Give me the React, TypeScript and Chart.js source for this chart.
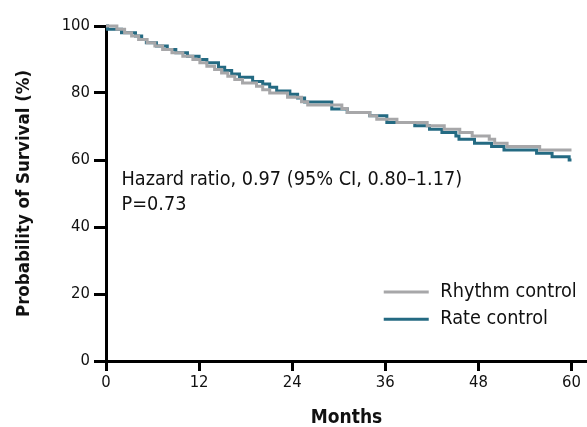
import React, { useEffect, useRef } from "react";
import { Chart, registerables } from "chart.js";

Chart.register(...registerables);

// Kaplan–Meier survival estimates (month of each drop, survival % after it)
const rhythmMonths = [0, 1.4, 2.4, 3.3, 4.2, 5.3, 6.3, 7.3, 8.5, 9.9, 11.2, 12.1, 13.0, 14.0, 14.9, 15.7, 16.6, 17.6, 19.4, 20.2, 21.1, 23.4, 25.2, 26.0, 30.4, 31.1, 34.0, 34.9, 37.5, 41.4, 43.6, 45.6, 47.2, 49.4, 50.1, 51.7, 55.9, 60];
const rhythmSurvival = [100, 99, 98, 97, 96, 95, 94, 93, 92, 91, 90, 89, 88, 87, 86, 85, 84, 83, 82, 81, 80, 78.7, 77.4, 76.4, 75.4, 74.2, 73.2, 72.2, 71.2, 70.2, 69.2, 68.2, 67.2, 66.2, 65, 64, 63, 63];

const rateMonths = [0, 0.2, 2.0, 3.8, 4.6, 5.2, 6.5, 7.9, 9.0, 10.5, 12.0, 13.0, 14.5, 15.3, 16.2, 17.2, 18.9, 20.2, 21.1, 22.0, 23.7, 24.7, 25.6, 29.1, 31.1, 34.0, 36.2, 39.8, 41.7, 43.3, 45.1, 45.5, 47.5, 49.7, 51.3, 55.5, 57.5, 59.7, 60];
const rateSurvival = [100, 99, 98, 97, 96, 95, 94, 93, 92, 91, 90, 89, 87.7, 86.7, 85.7, 84.7, 83.4, 82.7, 81.7, 80.6, 79.6, 78.5, 77.3, 75.2, 74.2, 73.2, 71.2, 70.2, 69.2, 68.2, 67.2, 66.2, 65, 64, 63, 62, 61, 60, 60];

const seriesLabels = ["Rhythm control", "Rate control"];
const seriesColors = ["#a7a7a9", "#246a82"];

const monthTicks = [0, 12, 24, 36, 48, 60];
const survivalTicks = [0, 20, 40, 60, 80, 100];

const annotationLines = ["Hazard ratio, 0.97 (95% CI, 0.80\u20131.17)", "P=0.73"];

const FONT = "'DejaVu Sans Condensed', 'DejaVu Sans', sans-serif";

const toPoints = (xs: number[], ys: number[]) => xs.map((x, i) => ({ x, y: ys[i] }));

// Hazard-ratio note and the line legend, placed in data coordinates
const overlayPlugin = {
  id: "overlay",
  afterDatasetsDraw(chart: any) {
    const { ctx, scales } = chart;
    const xs = scales.x;
    const ys = scales.y;
    ctx.save();
    ctx.fillStyle = "#111";
    ctx.font = `19.7px ${FONT}`;
    ctx.textAlign = "left";
    ctx.textBaseline = "alphabetic";
    ctx.fillText(annotationLines[0], xs.getPixelForValue(2), ys.getPixelForValue(52.5));
    ctx.fillText(annotationLines[1], xs.getPixelForValue(2), ys.getPixelForValue(45));

    const legendRows = [20.6, 12.5];
    chart.data.datasets.forEach((ds: any, i: number) => {
      const y = ys.getPixelForValue(legendRows[i]);
      ctx.strokeStyle = ds.borderColor;
      ctx.lineWidth = 3;
      ctx.beginPath();
      ctx.moveTo(xs.getPixelForValue(35.8), y);
      ctx.lineTo(xs.getPixelForValue(41.6), y);
      ctx.stroke();
      ctx.fillStyle = "#111";
      ctx.textBaseline = "middle";
      ctx.fillText(ds.label, xs.getPixelForValue(43.1), y);
    });
    ctx.restore();
  },
};

export default function App() {
  const canvasRef = useRef<HTMLCanvasElement | null>(null);

  useEffect(() => {
    const canvas = canvasRef.current;
    if (!canvas) return;
    const chart = new Chart(canvas, {
      type: "line",
      data: {
        datasets: [
          {
            label: seriesLabels[0],
            data: toPoints(rhythmMonths, rhythmSurvival),
            borderColor: seriesColors[0],
            backgroundColor: seriesColors[0],
            borderWidth: 3,
            stepped: "before",
            pointRadius: 0,
            fill: false,
            clip: false,
          },
          {
            label: seriesLabels[1],
            data: toPoints(rateMonths, rateSurvival),
            borderColor: seriesColors[1],
            backgroundColor: seriesColors[1],
            borderWidth: 3,
            stepped: "before",
            pointRadius: 0,
            fill: false,
            clip: false,
          },
        ],
      },
      options: {
        animation: false,
        responsive: false,
        devicePixelRatio: 1,
        layout: { padding: { top: 26, left: 0, right: 0, bottom: 0 } },
        plugins: { legend: { display: false }, tooltip: { enabled: false } },
        scales: {
          x: {
            type: "linear",
            min: 0,
            max: 62,
            afterBuildTicks: (s: any) => {
              s.ticks = monthTicks.map((v) => ({ value: v }));
            },
            afterFit: (s: any) => {
              s.height = 66;
            },
            ticks: {
              autoSkip: false,
              maxRotation: 0,
              padding: 2,
              color: "#111",
              font: { family: FONT, size: 16.5 },
            },
            grid: { drawOnChartArea: false, tickLength: 10, tickWidth: 3, tickColor: "#000" },
            border: { color: "#000", width: 3 },
            title: {
              display: true,
              text: "Months",
              color: "#111",
              padding: 0,
              font: { family: FONT, size: 19, weight: "bold", lineHeight: 0.95 },
            },
          },
          y: {
            min: 0,
            max: 100,
            afterBuildTicks: (s: any) => {
              s.ticks = survivalTicks.map((v) => ({ value: v }));
            },
            afterFit: (s: any) => {
              s.width = 106;
            },
            ticks: {
              padding: 4,
              color: "#111",
              font: { family: FONT, size: 16.5 },
            },
            grid: { drawOnChartArea: false, tickLength: 12, tickWidth: 3, tickColor: "#000" },
            border: { color: "#000", width: 3 },
            title: {
              display: true,
              text: "Probability of Survival (%)",
              color: "#111",
              padding: { top: 13, bottom: 0 },
              font: { family: FONT, size: 18.5, weight: "bold", lineHeight: 1.2 },
            },
          },
        },
      },
      plugins: [overlayPlugin],
    });
    return () => chart.destroy();
  }, []);

  return (
    <div style={{ position: "fixed", left: 0, top: 0, width: 587, height: 427, background: "#fff" }}>
      <canvas ref={canvasRef} width={587} height={427} />
    </div>
  );
}
